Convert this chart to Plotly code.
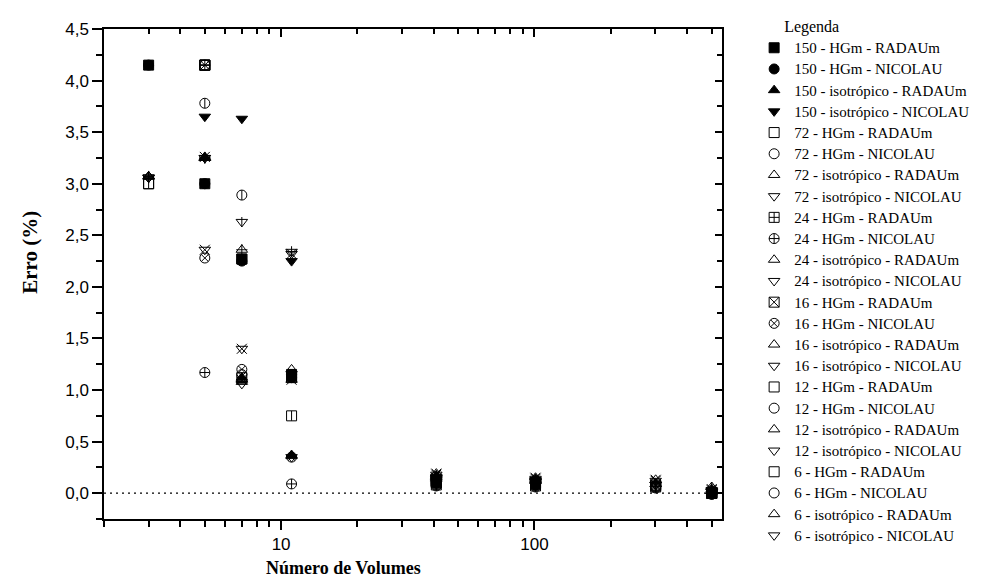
import math
import plotly.graph_objects as go

# ---------------- data ----------------
X_VOLUMES = [3, 5, 7, 11, 41, 101, 301, 501]

v150_hgm_radaum = [4.15, 3.00, 2.27, 1.15, 0.12, 0.10, None, 0.01]
v150_hgm_nicolau = [4.15, 3.00, 2.25, 1.12, 0.10, 0.08, None, 0.00]
v150_iso_radaum = [None, 3.25, 1.12, 0.37, 0.15, 0.12, None, 0.02]
v150_iso_nicolau = [None, 3.65, 3.63, 2.25, 0.14, 0.11, None, 0.01]
v72_hgm_radaum = [3.00, 4.15, None, 1.12, 0.10, 0.09, None, 0.00]
v72_hgm_nicolau = [None, None, 1.15, None, 0.09, 0.08, None, 0.00]
v72_iso_radaum = [3.07, None, None, 0.36, 0.16, 0.13, None, 0.02]
v72_iso_nicolau = [3.06, None, None, None, 0.15, 0.12, None, 0.01]
v24_hgm_radaum = [None, 4.15, 1.12, None, 0.11, 0.09, 0.07, 0.00]
v24_hgm_nicolau = [None, 1.17, None, 0.09, 0.08, 0.07, 0.06, -0.01]
v24_iso_radaum = [3.07, 3.25, 2.36, None, 0.17, 0.13, 0.09, 0.03]
v24_iso_nicolau = [3.06, 3.25, None, 2.34, 0.16, 0.12, 0.08, 0.02]
v16_hgm_radaum = [None, 4.15, 2.27, 1.13, 0.11, 0.10, 0.08, 0.00]
v16_hgm_nicolau = [None, 2.28, 1.20, 0.35, 0.10, 0.09, 0.07, 0.00]
v16_iso_radaum = [None, 3.26, 1.10, 1.10, 0.19, 0.15, 0.13, 0.04]
v16_iso_nicolau = [None, 2.36, 1.40, 2.32, 0.18, 0.14, 0.12, 0.03]
v12_hgm_radaum = [None, 4.15, None, None, 0.12, 0.10, None, 0.00]
v12_hgm_nicolau = [None, 4.15, None, None, 0.10, 0.09, None, 0.00]
v12_iso_radaum = [None, 3.25, 1.08, 1.20, 0.16, 0.14, None, 0.02]
v12_iso_nicolau = [None, 3.25, 1.06, 0.35, 0.15, 0.13, None, 0.01]
v6_hgm_radaum = [3.00, None, None, 0.75, 0.08, 0.07, 0.06, 0.00]
v6_hgm_nicolau = [None, 3.78, 2.89, None, 0.07, 0.06, 0.05, -0.01]
v6_iso_radaum = [3.07, None, None, None, 0.14, 0.12, 0.09, 0.06]
v6_iso_nicolau = [3.06, None, 2.63, None, 0.13, 0.11, 0.08, 0.02]

SERIES_NAMES = [
    "150 - HGm - RADAUm", "150 - HGm - NICOLAU",
    "150 - isotrópico - RADAUm", "150 - isotrópico - NICOLAU",
    "72 - HGm - RADAUm", "72 - HGm - NICOLAU",
    "72 - isotrópico - RADAUm", "72 - isotrópico - NICOLAU",
    "24 - HGm - RADAUm", "24 - HGm - NICOLAU",
    "24 - isotrópico - RADAUm", "24 - isotrópico - NICOLAU",
    "16 - HGm - RADAUm", "16 - HGm - NICOLAU",
    "16 - isotrópico - RADAUm", "16 - isotrópico - NICOLAU",
    "12 - HGm - RADAUm", "12 - HGm - NICOLAU",
    "12 - isotrópico - RADAUm", "12 - isotrópico - NICOLAU",
    "6 - HGm - RADAUm", "6 - HGm - NICOLAU",
    "6 - isotrópico - RADAUm", "6 - isotrópico - NICOLAU",
]
SERIES_VALUES = [
    v150_hgm_radaum, v150_hgm_nicolau, v150_iso_radaum, v150_iso_nicolau,
    v72_hgm_radaum, v72_hgm_nicolau, v72_iso_radaum, v72_iso_nicolau,
    v24_hgm_radaum, v24_hgm_nicolau, v24_iso_radaum, v24_iso_nicolau,
    v16_hgm_radaum, v16_hgm_nicolau, v16_iso_radaum, v16_iso_nicolau,
    v12_hgm_radaum, v12_hgm_nicolau, v12_iso_radaum, v12_iso_nicolau,
    v6_hgm_radaum, v6_hgm_nicolau, v6_iso_radaum, v6_iso_nicolau,
]
Y_TICKS = [0, 0.5, 1, 1.5, 2, 2.5, 3, 3.5, 4, 4.5]
X_TICKS = [10, 100]

# ---------------- styles ----------------
BASE_SYMBOLS = [
    "square", "circle", "triangle-up", "triangle-down",
    "square-open", "circle-open", "triangle-up-open", "triangle-down-open",
    "square-cross-open", "circle-cross-open", "triangle-up-open", "triangle-down-open",
    "square-x-open", "circle-x-open", "triangle-up-open", "triangle-down-open",
    "square-open", "circle-open", "triangle-up-open", "triangle-down-open",
    "square-open", "circle-open", "triangle-up-open", "triangle-down-open",
]
OVERLAY_SYMBOLS = [
    None, None, None, None,
    None, None, None, None,
    None, None, "cross-thin-open", "cross-thin-open",
    None, None, "x-thin-open", "x-thin-open",
    "line-ew-open", "line-ew-open", "line-ew-open", "line-ew-open",
    "line-ns-open", "line-ns-open", "line-ns-open", "line-ns-open",
]
MSIZE = 10
OVERLAY_SIZE = {"cross-thin-open": 8, "x-thin-open": 10, "line-ew-open": 7, "line-ns-open": 7}

SERIF = "'Liberation Serif', 'Times New Roman', serif"
SANS = "'Liberation Sans', Arial, sans-serif"

X_RANGE = [math.log10(2.0), math.log10(550.0)]
Y_RANGE = [-0.25, 4.5]

fig = go.Figure()

for name, vals, sym in zip(SERIES_NAMES, SERIES_VALUES, BASE_SYMBOLS):
    fig.add_trace(go.Scatter(
        x=X_VOLUMES, y=vals, mode="markers",
        name='<span style="font-size:15px">' + name + '</span>',
        marker=dict(symbol=sym, size=MSIZE, color="black",
                    line=dict(color="black", width=1)),
        xaxis="x", yaxis="y",
    ))

for vals, ov in zip(SERIES_VALUES, OVERLAY_SYMBOLS):
    if ov is None:
        continue
    fig.add_trace(go.Scatter(
        x=X_VOLUMES, y=vals, mode="markers", showlegend=False,
        marker=dict(symbol=ov, size=OVERLAY_SIZE[ov], color="black",
                    line=dict(color="black", width=1)),
        xaxis="x2", yaxis="y2", hoverinfo="skip",
    ))

minor_x = [2, 3, 4, 5, 6, 7, 8, 9, 20, 30, 40, 50, 60, 70, 80, 90, 200, 300, 400, 500]

axis_common = dict(showline=True, linecolor="black", linewidth=1.5,
                   showgrid=False, zeroline=False, tickcolor="black", tickwidth=1.5)

fig.update_layout(
    width=984, height=582,
    margin=dict(l=96, r=270, t=21, b=71, autoexpand=False),
    paper_bgcolor="white", plot_bgcolor="white",
    font=dict(family=SERIF, color="black"),
    separators=",.",
    showlegend=True,
    xaxis=dict(type="log", range=X_RANGE, ticks="outside", ticklen=9,
               tickmode="array", tickvals=X_TICKS, ticktext=[str(v) for v in X_TICKS],
               tickfont=dict(family=SANS, size=17, color="black"),
               minor=dict(ticks="outside", ticklen=6, tickwidth=1.5, tickcolor="black",
                          tickmode="array", tickvals=minor_x, showgrid=False),
               anchor="y", **axis_common),
    xaxis2=dict(type="log", range=X_RANGE, overlaying="x", side="top", anchor="y",
                ticks="inside", ticklen=8, tickmode="array", tickvals=X_TICKS,
                showticklabels=False,
                minor=dict(ticks="inside", ticklen=5, tickwidth=1.5, tickcolor="black",
                           tickmode="array", tickvals=minor_x, showgrid=False),
                **axis_common),
    yaxis=dict(range=Y_RANGE, ticks="outside", ticklen=10, tickmode="array",
               tickvals=Y_TICKS, tickformat=".1f",
               tickfont=dict(family=SANS, size=17, color="black"),
               minor=dict(ticks="outside", ticklen=6, tickwidth=1.5, tickcolor="black",
                          dtick=0.25, showgrid=False),
               anchor="x", **axis_common),
    yaxis2=dict(range=Y_RANGE, overlaying="y", side="right", anchor="x",
                ticks="inside", ticklen=7, tickmode="array", tickvals=Y_TICKS,
                showticklabels=False,
                minor=dict(ticks="inside", ticklen=5, tickwidth=1.5, tickcolor="black",
                           dtick=0.25, showgrid=False),
                **axis_common),
    legend=dict(
        x=1.052, y=1.036, xanchor="left", yanchor="top",
        font=dict(family=SERIF, size=14, color="black"),
        title=dict(text="\u00a0" * 7 + "Legenda",
                   font=dict(family=SERIF, size=16, color="black")),
        bgcolor="rgba(0,0,0,0)", borderwidth=0, tracegroupgap=0,
        itemwidth=30, maxheight=1,
    ),
    shapes=[dict(type="line", xref="paper", x0=0, x1=1, yref="y", y0=0, y1=0,
                 line=dict(color="black", width=1.2, dash="2px,4px"), layer="below")],
    annotations=[
        dict(text="<b>Número de Volumes</b>", xref="paper", yref="paper",
             x=0.388, y=-0.100, xanchor="center", yanchor="middle", showarrow=False,
             font=dict(family=SERIF, size=18, color="black")),
        dict(text="<b>Erro (%)</b>", xref="paper", yref="paper",
             x=-0.12, y=0.545, xanchor="center", yanchor="middle", showarrow=False,
             textangle=-90, font=dict(family=SERIF, size=21, color="black")),
    ],
)

fig.write_html("out.html")
